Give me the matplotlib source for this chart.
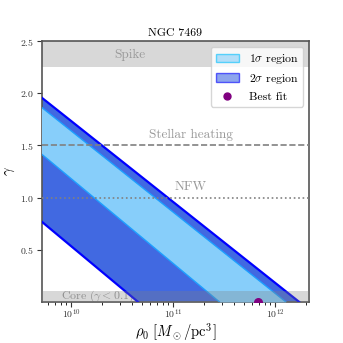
import numpy as np
import matplotlib
matplotlib.use('Agg')
from matplotlib import pyplot as plt
from matplotlib.patches import Patch
from matplotlib.lines import Line2D

plt.rcParams['font.family'] = 'serif'
plt.rcParams['font.serif'] = ['cmr10']
plt.rcParams['mathtext.fontset'] = 'cm'
plt.rcParams['axes.formatter.use_mathtext'] = True

# band boundaries: log10(rho0) where each contour crosses gamma = 0 and gamma = 2
gamma_pts = np.array([0.0, 2.0])
rho_2s_low = 10 ** np.array([10.657, 8.206])
rho_1s_low = 10 ** np.array([11.454, 8.997])
rho_1s_high = 10 ** np.array([12.105, 9.541])
rho_2s_high = 10 ** np.array([12.235, 9.661])

best_rho = 6.8e11
best_gamma = 0.0

fig = plt.figure(figsize=(3.43, 3.43), dpi=100)
ax = fig.add_axes([0.122, 0.12, 0.779, 0.76])

# reference bands
ax.axhspan(2.25, 2.5, color='gray', alpha=0.3, lw=0, zorder=1)
ax.text(3.8e10, 2.37, 'Spike', color='#999999', fontsize=9.5, ha='center', va='center', zorder=1)
ax.text(8.0e9, 0.055, r'Core ($\gamma < 0.1$)', color='#999999', fontsize=8.5, ha='left', va='center', zorder=1)

# confidence regions
ax.fill_betweenx(gamma_pts, rho_2s_low, rho_2s_high, color='royalblue', lw=0, zorder=2)
ax.fill_betweenx(gamma_pts, rho_1s_low, rho_1s_high, color='lightskyblue', lw=0, zorder=3)
ax.plot(rho_1s_low, gamma_pts, color='#1e9fff', lw=1.0, zorder=4)
ax.plot(rho_1s_high, gamma_pts, color='#1e9fff', lw=1.0, zorder=4)
ax.plot(rho_2s_low, gamma_pts, color='blue', lw=1.6, zorder=4)
ax.plot(rho_2s_high, gamma_pts, color='blue', lw=1.6, zorder=4)

ax.axhspan(0.0, 0.1, color='gray', alpha=0.3, lw=0, zorder=5)

# profile lines
ax.axhline(1.5, color='gray', ls='--', lw=1.2, zorder=6)
ax.text(1.5e11, 1.6, 'Stellar heating', color='#999999', fontsize=9.5, ha='center', va='center')
ax.axhline(1.0, color='gray', ls=':', lw=1.2, zorder=6)
ax.text(1.5e11, 1.1, 'NFW', color='#999999', fontsize=9.5, ha='center', va='center')

ax.scatter([best_rho], [best_gamma], color='purple', s=30, zorder=7)

ax.set_xscale('log')
ax.set_xlim(5.2e9, 2.15e12)
ax.set_ylim(0.0, 2.5)
ax.set_yticks([0.5, 1.0, 1.5, 2.0, 2.5])
ax.tick_params(labelsize=7, colors='#333333', pad=2, length=3.5)
ax.tick_params(axis='x', pad=0.5)
ax.tick_params(which='minor', length=2)
for s in ax.spines.values():
    s.set_color('#555555')
    s.set_linewidth(1.2)

ax.set_title('NGC 7469', fontsize=8.5, pad=4)
ax.set_xlabel(r'$\rho_0\ [M_\odot/\mathrm{pc}^3]$', fontsize=10.5)
ax.xaxis.set_label_coords(0.5, -0.075)
ax.set_ylabel(r'$\gamma$', fontsize=10.5, labelpad=2)

handles = [Patch(facecolor='lightskyblue', edgecolor='deepskyblue', alpha=0.6, label=r'1$\sigma$ region'),
           Patch(facecolor='royalblue', edgecolor='blue', alpha=0.6, label=r'2$\sigma$ region'),
           Line2D([], [], marker='o', ls='', color='purple', markersize=5, label='Best fit')]
ax.legend(handles=handles, loc='upper right', fontsize=8.5, framealpha=0.8)

fig.savefig('out.png', dpi=100)
